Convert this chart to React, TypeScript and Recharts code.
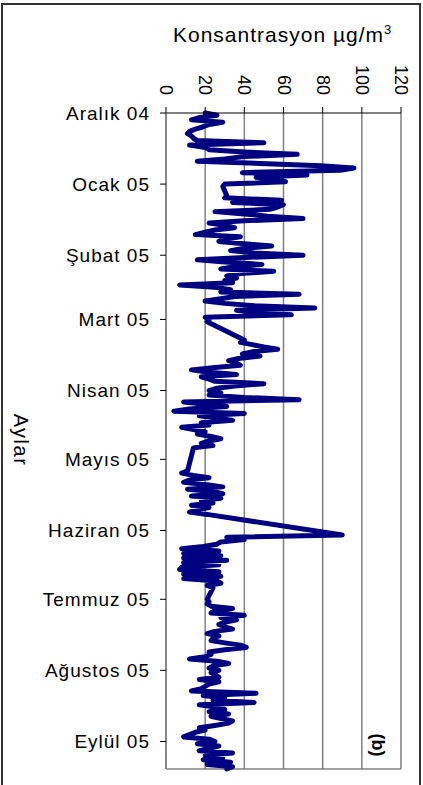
import { LineChart, Line, XAxis, YAxis, CartesianGrid, ReferenceLine } from 'recharts';

// daily concentrations per month (µg/m³), null = no measurement
const aralik04 = [20, 26, 17, 13, 29, 22, 19, 15, 12, 11, 13, 14, 16, 50, 12, 20, 22, 40, 67, 40, 30, 16, 48, 79, 96, 89, 39, 72, 46, 55, 61];
const ocak05 = [30, 29, null, null, null, 31, 30, 59, 34, 60, 57, 53, 25, 40, 52, 70, 40, 22, 30, 35, 25, 20, 15, 38, 30, 27, 40, 54, 40, 33, 45];
const subat05 = [70, 40, 16, 30, 49, 35, 28, 55, 38, 31, 36, 30, 34, 7, 25, 33, 28, 68, 35, 28, 20, 30, 45, 76, 36, 45, 64, 20];
const mart05 = [22, 21, null, null, null, null, null, null, null, 40, 38, 44, 50, 57, 45, 39, 48, 37, 32, 36, 38, 25, 13, 22, 36, 18, 22, 25, 50, 35, 26];
const nisan05 = [22, 28, 22, 40, 68, 9, 20, 31, 12, 4, 40, 17, 26, 34, 18, 22, 8, 14, 20, 16, 23, 28, 22, 18, 24, 14, null, null, null, null];
const mayis05 = [null, null, null, null, null, 11, 8, 14, 22, 12, 9, 20, 29, 11, 24, 29, 13, 28, 18, 24, 13, 22, 16, 12, 21, null, null, null, null, null, null];
const haziran05 = [null, null, 90, 31, 40, 28, 26, 19, 8, 27, 9, 28, 9, 31, 9, 27, 8, 7, 27, 9, 28, 9, 26, 28, 21, 24, null, null, null, null];
const temmuz05 = [21, 22, 21, 23, 34, 25, 23, 40, 28, 36, 30, 27, 30, 34, 25, 21, 27, 24, 23, 30, 38, 41, 30, 22, 23, 20, 12, 26, 32, 24, 22];
const agustos05 = [27, 23, 25, 27, 17, 27, 22, 20, 18, 13, 46, 19, 30, 24, 45, 17, 25, 30, 22, 32, 23, 28, 34, 32, 25, 17, 20, 15, 12, 9, 22];
const eylul05 = [25, 16, 27, 22, 17, 34, 20, 29, 19, 33, 21, 34, 31];

const months = [aralik04, ocak05, subat05, mart05, nisan05, mayis05, haziran05, temmuz05, agustos05, eylul05];
const monthLabels = ['Aralık 04', 'Ocak 05', 'Şubat 05', 'Mart 05', 'Nisan 05', 'Mayıs 05', 'Haziran 05', 'Temmuz 05', 'Ağustos 05', 'Eylül 05'];
const monthStarts = [0, 31, 62, 90, 121, 151, 182, 212, 243, 274];
const concTicks = [0, 20, 40, 60, 80, 100, 120];
const lastDay = 286;

const data: { day: number; value: number | null }[] = [];
months.forEach((vals, m) => {
  vals.forEach((v, i) => data.push({ day: monthStarts[m] + i, value: v }));
});

function ConcTick({ x, y, payload }: any) {
  return (
    <text
      x={x}
      y={y}
      transform={`rotate(90 ${x} ${y})`}
      textAnchor="end"
      dominantBaseline="central"
      fontSize={18}
      fontFamily="'Liberation Sans', Arial, sans-serif"
      fill="#000"
    >
      {payload.value}
    </text>
  );
}

const monthName = (d: number) => monthLabels[monthStarts.indexOf(d)] ?? '';

export default function App() {
  return (
    <div style={{ position: 'absolute', left: 0, top: 0, width: 423, height: 785, background: '#fff', overflow: 'hidden' }}>
      <div
        style={{
          position: 'absolute',
          left: 1,
          top: 3,
          width: 416,
          height: 800,
          border: '2px solid #333',
        }}
      />
      <div
        style={{
          position: 'absolute',
          left: 173,
          top: 22,
          fontFamily: "'Liberation Sans', Arial, sans-serif",
          fontSize: 21,
          letterSpacing: 1,
          whiteSpace: 'nowrap',
          color: '#000',
        }}
      >
        Konsantrasyon µg/m<sup style={{ fontSize: 13 }}>3</sup>
      </div>
      <div
        style={{
          position: 'absolute',
          left: 20,
          top: 440,
          transform: 'translate(-50%, -50%) rotate(90deg)',
          fontFamily: "'Liberation Sans', Arial, sans-serif",
          fontSize: 20,
          letterSpacing: 1.5,
          whiteSpace: 'nowrap',
        }}
      >
        Aylar
      </div>
      <div
        style={{
          position: 'absolute',
          left: 377,
          top: 745,
          transform: 'translate(-50%, -50%) rotate(90deg)',
          fontFamily: "'Liberation Sans', Arial, sans-serif",
          fontSize: 18,
          fontWeight: 'bold',
          whiteSpace: 'nowrap',
        }}
      >
        (b)
      </div>
      <div style={{ position: 'absolute', left: 0, top: 0 }}>
        <LineChart
          width={423}
          height={785}
          layout="vertical"
          data={data}
          margin={{ top: 73, right: 22, bottom: 16, left: 56 }}
        >
          <CartesianGrid horizontal={false} stroke="#808080" strokeWidth={1.5} />
          <XAxis
            type="number"
            orientation="top"
            domain={[0, 120]}
            ticks={concTicks}
            height={40}
            tickSize={6}
            tickMargin={12}
            axisLine={{ stroke: '#000' }}
            tickLine={{ stroke: '#000' }}
            tick={<ConcTick />}
          />
          <YAxis
            type="number"
            dataKey="day"
            domain={[0, lastDay]}
            ticks={monthStarts}
            tickFormatter={monthName}
            width={110}
            tickSize={6}
            tickMargin={10}
            axisLine={{ stroke: '#808080', strokeWidth: 1.5 }}
            tickLine={{ stroke: '#000' }}
            tick={{ fontSize: 19, fill: '#000', fontFamily: "'Liberation Sans', Arial, sans-serif", letterSpacing: 1 }}
          />
          <ReferenceLine y={lastDay} stroke="#808080" strokeWidth={1.5} />
          <Line
            type="linear"
            dataKey="value"
            stroke="#000080"
            strokeWidth={5}
            strokeLinejoin="round"
            strokeLinecap="round"
            dot={false}
            connectNulls
            isAnimationActive={false}
          />
        </LineChart>
      </div>
    </div>
  );
}
